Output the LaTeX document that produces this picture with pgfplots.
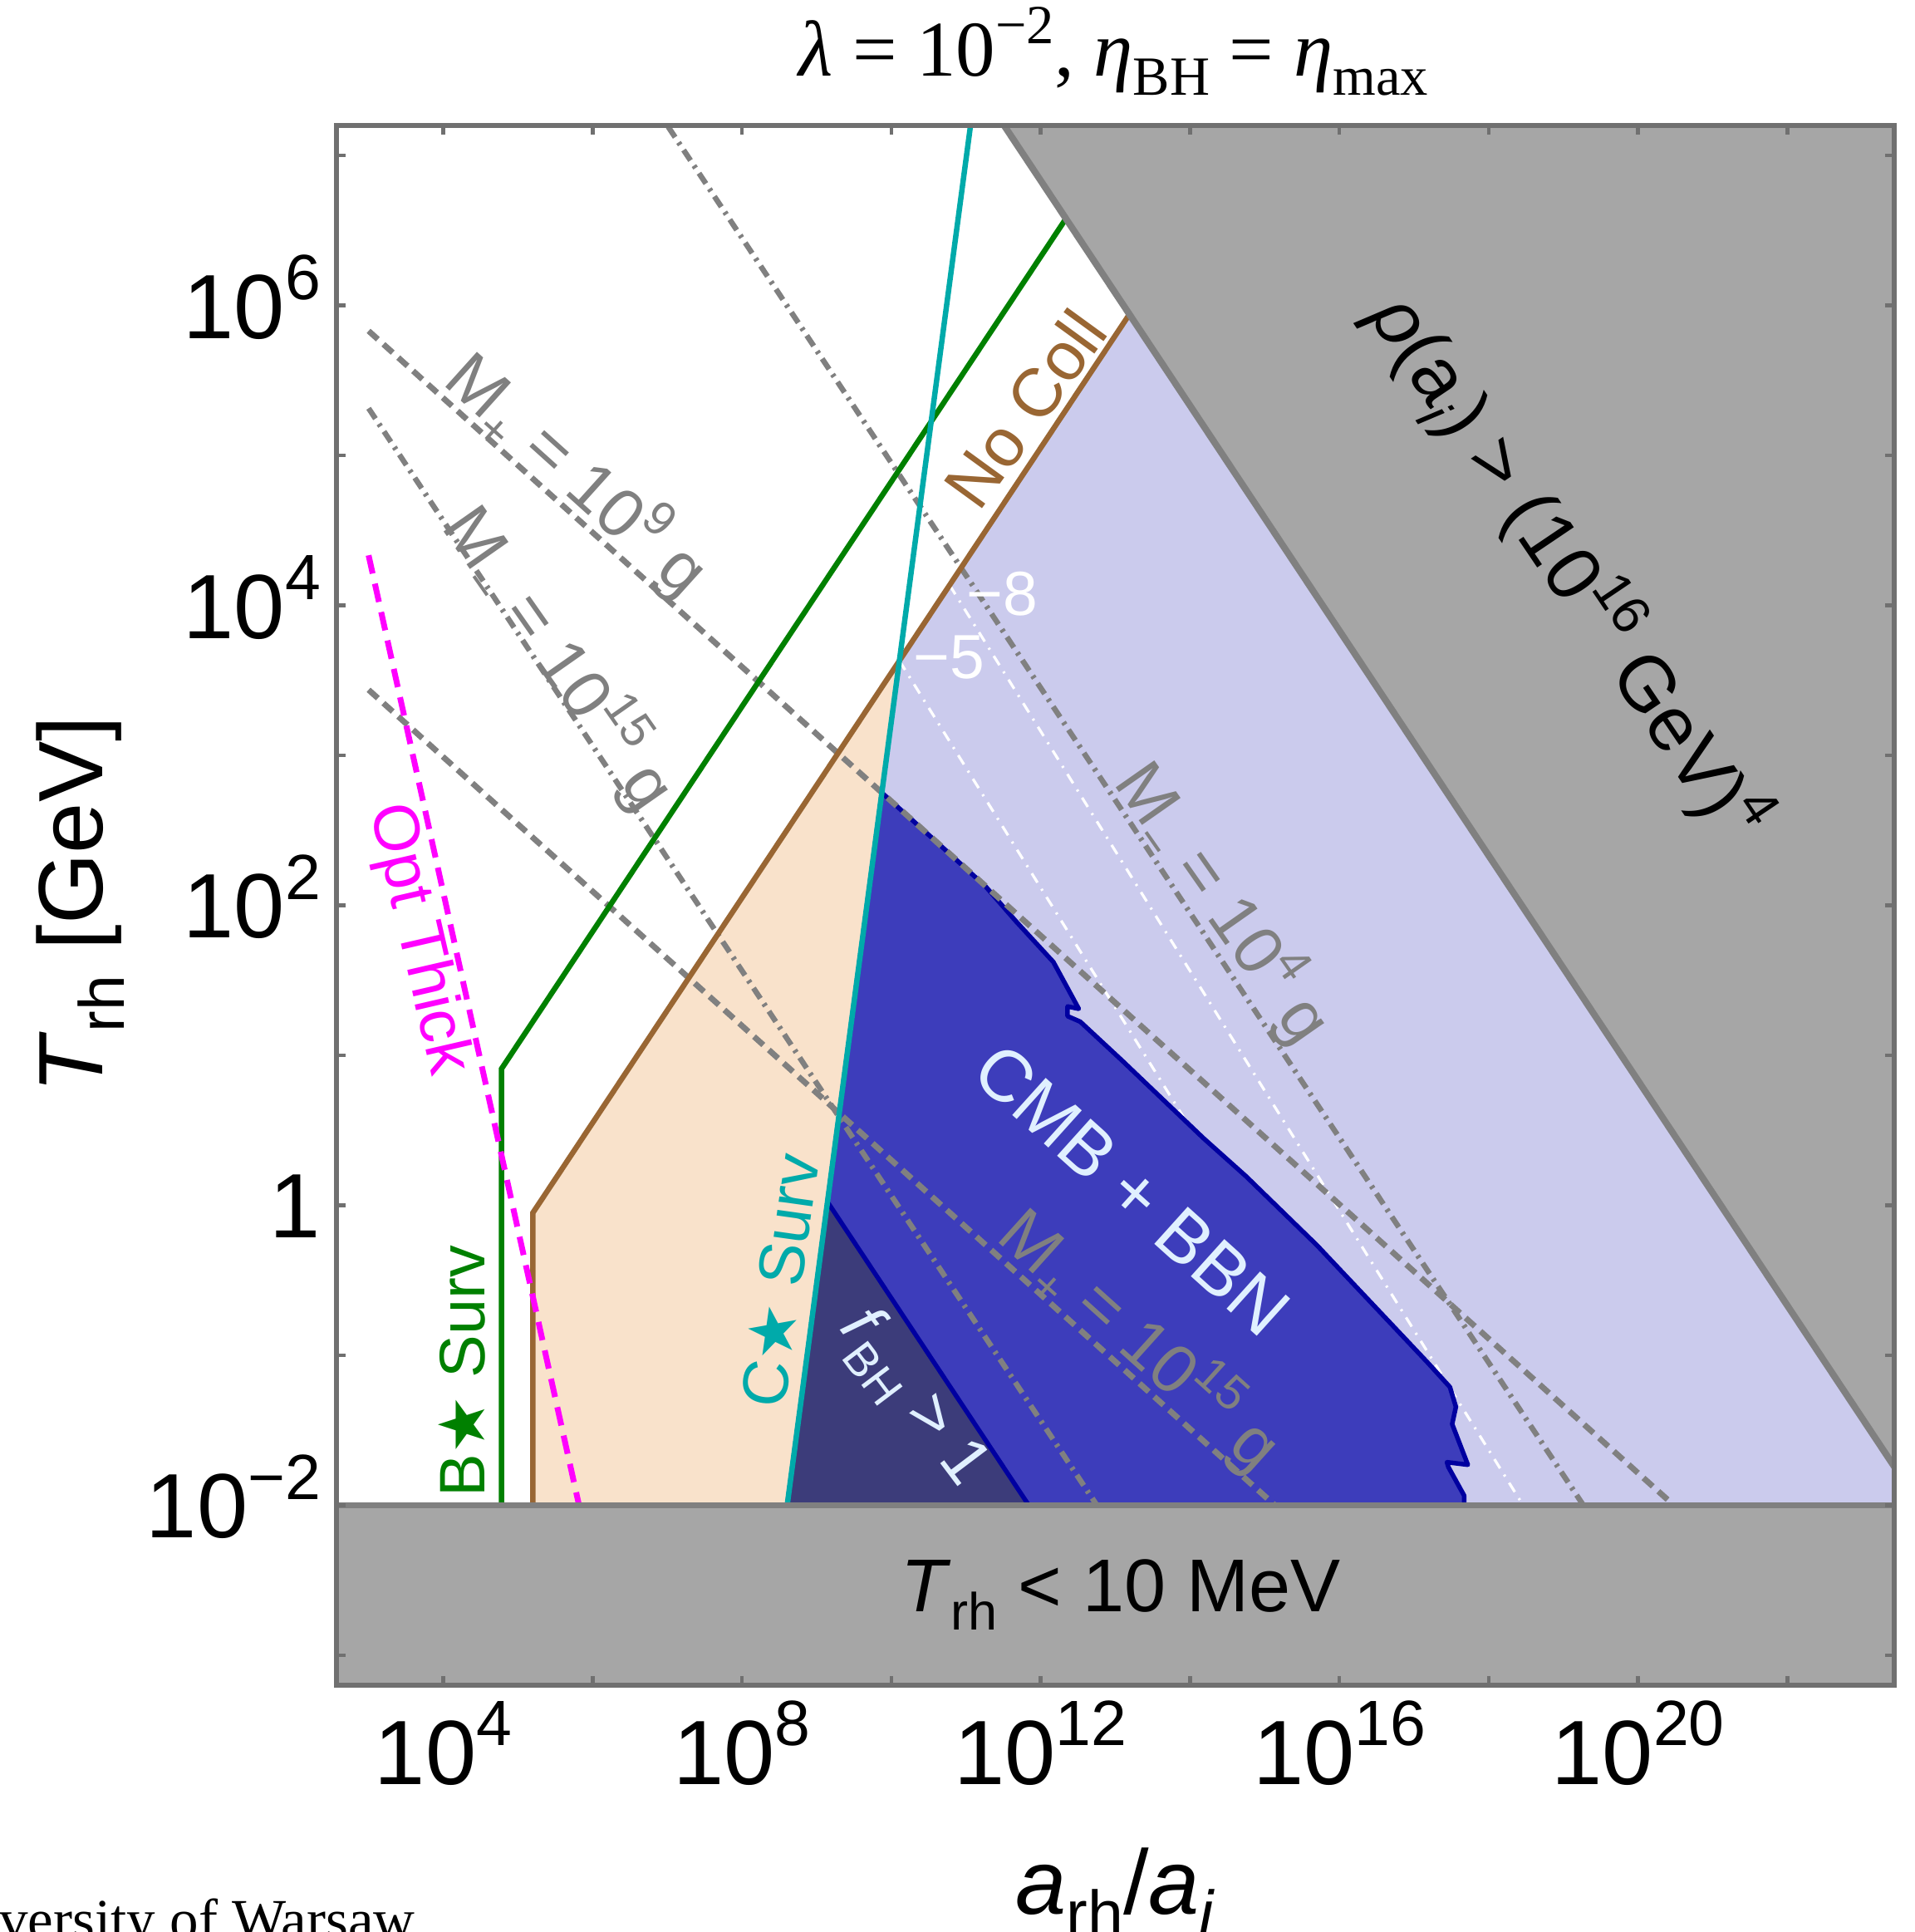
\documentclass[border=0pt]{standalone}
\usepackage{fontspec}
\setmainfont{Liberation Sans}
\newfontfamily\tim{Liberation Serif}
\newfontfamily\dejavu{DejaVu Sans}
\usepackage{pgfplots}
\pgfplotsset{compat=1.18}

\definecolor{lav}{RGB}{203,203,237}
\definecolor{peach}{RGB}{249,226,203}
\definecolor{dblue}{RGB}{61,61,187}
\definecolor{ddark}{RGB}{60,60,122}
\definecolor{navyb}{RGB}{0,0,160}
\definecolor{gfill}{RGB}{166,166,166}
\definecolor{gline}{RGB}{128,128,128}
\definecolor{framec}{RGB}{112,112,112}
\definecolor{brownl}{RGB}{153,102,51}
\definecolor{dgreen}{RGB}{0,128,0}
\definecolor{tealc}{RGB}{0,170,170}
\definecolor{magc}{RGB}{255,0,255}
\definecolor{cmbtxt}{RGB}{224,240,255}

\newcommand{\su}[1]{\raisebox{0.42em}{\scalebox{0.7}{#1}}}
\newcommand{\sd}[1]{\raisebox{-0.24em}{\scalebox{0.7}{#1}}}
\newcommand{\str}{{\dejavu ★}}

\begin{document}
\begin{tikzpicture}
\useasboundingbox (-81pt,-59.4pt) rectangle (379.8pt,405.6pt);
\begin{axis}[
  at={(0pt,0pt)}, anchor=south west,
  scale only axis, width=375pt, height=375.4pt,
  xmode=log, ymode=log,
  xmin=371.5, xmax=2.69e23, ymin=6.31e-4, ymax=1.585e7,
  axis on top,
  axis line style={draw=framec, line width=1.2pt},
  tick style={draw=framec, line width=0.9pt},
  tick align=inside,
  major tick length=2.2pt, minor tick length=2.2pt,
  xtick pos=both, ytick pos=both,
  xticklabel pos=left, yticklabel pos=left,
  xtick={1e4,1e8,1e12,1e16,1e20},
  xticklabels={10\su{4},10\su{8},10\su{12},10\su{16},10\su{20}},
  minor xtick={1e6,1e10,1e14,1e18,1e22},
  ytick={1e-2,1,1e2,1e4,1e6},
  yticklabels={10\su{−2},1,10\su{2},10\su{4},10\su{6}},
  minor ytick={1e-3,1e-1,10,1e3,1e5,1e7},
  ticklabel style={font=\fontsize{22}{22}\selectfont, inner sep=0pt},
  xticklabel style={anchor=base, yshift=-23.8pt},
  yticklabel style={anchor=base east, xshift=-3.6pt, yshift=-7.9pt},
]
% lavender region
\addplot[fill=lav, draw=none] coordinates {(2.965e8,3.162e-3) (1.282e10,4276) (1e14,3.548e6) (1e24,3.548e6) (1e24,3.162e-3)} --cycle;
% peach region
\addplot[fill=peach, draw=none] coordinates {(1.585e5,3.162e-3) (1.585e5,0.8913) (1.282e10,4276) (2.965e8,3.162e-3)} --cycle;
% white contour lines
\addplot[white, line width=0.65pt, dash pattern=on 2.6pt off 1.8pt on 0.5pt off 1.8pt] coordinates {(1.282e10,4276) (1.403e17,0.01)};
\addplot[white, line width=0.65pt, dash pattern=on 2.6pt off 1.8pt on 0.5pt off 1.8pt] coordinates {(6.026e10,1.365e4) (2.884e18,0.01)};
% CMB + BBN region
\addplot[fill=dblue, draw=navyb, line width=1.1pt, line join=round] coordinates {
 (7.464e9,563.6) (3.981e10,266.1) (1.820e11,134.0) (4.677e11,78.16) (1.479e12,41.88)
 (3.236e12,20.42) (2.291e12,21.18) (2.291e12,18.24) (3.388e12,16.75) (1.230e13,9.226)
 (1.514e14,2.799) (5.623e14,1.560) (5.012e15,0.5408) (1.514e17,0.08954) (3.020e17,0.06138)
 (3.631e17,0.04529) (3.236e17,0.03475) (5.248e17,0.01862) (2.754e17,0.01936) (2.884e17,0.01795)
 (4.677e17,0.01161) (4.898e17,3.162e-3) (2.965e8,3.162e-3)} --cycle;
% f_BH > 1 region
\addplot[fill=ddark, draw=none] coordinates {(1.396e9,1.054) (3.214e12,3.162e-3) (2.965e8,3.162e-3)} --cycle;
\addplot[navyb, line width=1.1pt] coordinates {(1.396e9,1.054) (6.918e11,0.01)};
% gray mass lines
\addplot[gline, line width=1.3pt, dash pattern=on 3pt off 1.5pt on 0.7pt off 1.5pt] coordinates {(3.981e6,3.162e7) (1.849e19,0.01)};
\addplot[gline, line width=1.3pt, dash pattern=on 3pt off 1.5pt on 0.7pt off 1.5pt] coordinates {(1e3,2.061e5) (5.649e12,0.01)};
\addplot[gline, line width=1.4pt, dash pattern=on 3pt off 1.8pt] coordinates {(1e3,6.761e5) (3.006e20,0.01)};
\addplot[gline, line width=1.4pt, dash pattern=on 3pt off 1.8pt] coordinates {(1e3,2735) (1.368e15,0.01)};
% coloured boundaries
\addplot[dgreen, line width=1.3pt] coordinates {(6.026e4,3.162e-3) (6.026e4,8.128) (1e13,1.189e7)};
\addplot[brownl, line width=1.3pt] coordinates {(1.585e5,3.162e-3) (1.585e5,0.8913) (1e14,3.548e6)};
\addplot[magc, line width=1.4pt, dash pattern=on 4.5pt off 2.5pt] coordinates {(1e3,2.158e4) (6.577e5,0.01)};
\addplot[tealc, line width=1.3pt] coordinates {(2.965e8,3.162e-3) (1.469e11,3.981e7)};
% excluded gray regions
\addplot[fill=gfill, draw=none] coordinates {(1.288e11,3.162e7) (1e24,3.162e7) (1e24,6.76e-3)} --cycle;
\addplot[gline, line width=1.6pt] coordinates {(1.288e11,3.162e7) (1e24,6.76e-3)};
\addplot[fill=gfill, draw=none] coordinates {(100,1e-4) (1e24,1e-4) (1e24,0.01) (100,0.01)} --cycle;
\addplot[gline, line width=1.3pt] coordinates {(100,0.01) (1e24,0.01)};
\end{axis}

% labels inside the plot
\node[rotate=-56, inner sep=0, font=\fontsize{18.5}{20}\selectfont] at (296.5pt,269pt) {\textit{ρ}(a\sd{\textit{i}}) > (10\su{16} GeV)\su{4}};
\node[rotate=54, inner sep=0, text=brownl, font=\fontsize{16.4}{18}\selectfont] at (165.7pt,307.2pt) {No Coll};
\node[rotate=-42, inner sep=0, text=gline, font=\fontsize{16.5}{18}\selectfont] at (58pt,291.4pt) {M\sd{+} = 10\su{9} g};
\node[rotate=-55, inner sep=0, text=gline, font=\fontsize{16.5}{18}\selectfont] at (53.7pt,247.3pt) {M\sd{−} = 10\su{15} g};
\node[rotate=-55, inner sep=0, text=gline, font=\fontsize{16.5}{18}\selectfont] at (213.6pt,188.3pt) {M\sd{−} = 10\su{4} g};
\node[rotate=-42, inner sep=0, text=gline, font=\fontsize{16.5}{18}\selectfont] at (193.4pt,83.1pt) {M\sd{+} = 10\su{15} g};
\node[rotate=-77, inner sep=0, text=magc, font=\fontsize{15.5}{17}\selectfont] at (19.5pt,179.5pt) {Opt Thick};
\node[rotate=90, inner sep=0, text=dgreen, font=\fontsize{15.5}{17}\selectfont] at (30.2pt,75.6pt) {B\str\ Surv};
\node[rotate=82, inner sep=0, text=tealc, font=\fontsize{15.5}{17}\selectfont] at (106.6pt,97.4pt) {C\str\ Surv};
\node[rotate=-42, inner sep=0, text=cmbtxt, font=\fontsize{17.5}{19}\selectfont] at (191.5pt,119.3pt) {CMB + BBN};
\node[rotate=-53, inner sep=0, text=cmbtxt, font=\fontsize{16}{18}\selectfont] at (138.6pt,68.8pt) {\textit{f}\sd{BH} > 1};
\node[anchor=base, inner sep=0, font=\fontsize{18}{20}\selectfont] at (188.8pt,17.6pt) {\textit{T}\sd{rh} < 10 MeV};
\node[inner sep=0, text=white, font=\fontsize{15}{17}\selectfont] at (160.2pt,262.6pt) {−8};
\node[inner sep=0, text=white, font=\fontsize{15}{17}\selectfont] at (147.5pt,247.4pt) {−5};

% axis labels and title
\node[rotate=90, anchor=base, inner sep=0, font=\fontsize{22}{24}\selectfont] at (-56.4pt,187.8pt) {\textit{T}\sd{rh} [GeV]};
\node[anchor=base, inner sep=0, font=\fontsize{22}{24}\selectfont] at (187.5pt,-55pt) {\textit{a}\sd{rh}/\textit{a}\sd{\textit{i}}};
\node[anchor=base, inner sep=0, font=\tim\fontsize{19}{22}\selectfont] at (187pt,387.2pt) {\textit{λ} = 10\su{−2}, \textit{η}\sd{BH} = \textit{η}\sd{max}};
\node[anchor=base west, inner sep=0, font=\tim\fontsize{13.8}{15}\selectfont] at (-102pt,-61pt) {University of Warsaw};
\end{tikzpicture}
\end{document}
